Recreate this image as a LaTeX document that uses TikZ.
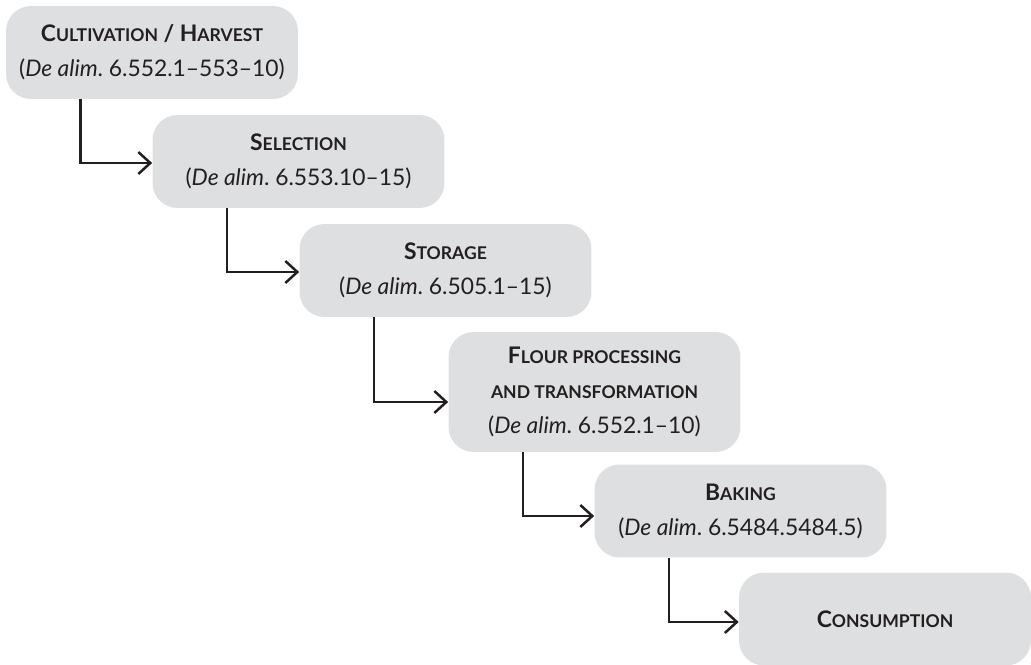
\documentclass[tikz,border=0pt]{standalone}
\usepackage{fontspec}
\setmainfont{Lato}
\usetikzlibrary{calc,arrows.meta}
\frenchspacing

\definecolor{boxgray}{RGB}{222,223,224}
\definecolor{ink}{RGB}{35,31,32}

% fake small caps: first letter full size, the rest in smaller capitals
\newcommand{\ksc}[2]{#1{\fontsize{10}{20}\selectfont\MakeUppercase{#2}}}
\newcommand{\dealim}[1]{(\textit{De alim}. #1)}

\begin{document}
\begin{tikzpicture}[x=.02cm,y=-.02cm,
  stage/.style={fill=boxgray, rounded corners=.5cm, minimum width=5.84cm, minimum height=1.86cm,
    align=center, text=ink, font=\fontsize{13}{20}\selectfont, inner sep=0pt},
  flow/.style={draw=ink, line width=.05cm, -{Straight Barb[length=.24cm,width=.44cm]}}]

\useasboundingbox (0,0) rectangle (1031,665);

\node[stage] (cult) at (152,52.5) {\textbf{\ksc{C}{ultivation} / \ksc{H}{arvest}}\\\dealim{6.552.1--553--10}};

\node[stage] (sel) at (298.5,161.5) {\textbf{\ksc{S}{election}}\\\dealim{6.553.10--15}};

\node[stage] (stor) at (445.5,270.5) {\textbf{\ksc{S}{torage}}\\\dealim{6.505.1--15}};

\node[stage, minimum height=2.4cm] (flour) at (594.5,392) {\textbf{\ksc{F}{lour processing}}\\
  \textbf{{\fontsize{10}{20}\selectfont\MakeUppercase{and transformation}}}\\\dealim{6.552.1--10}};

\node[stage] (bake) at (740.5,511) {\textbf{\ksc{B}{aking}}\\\dealim{6.5484.5484.5}};

\node[stage] (cons) at (885,619) {\textbf{\ksc{C}{onsumption}}};

\draw[flow] ($(cult.south west)+(75,0)$) |- ($(sel.west)+(0,1.5)$);
\draw[flow] ($(sel.south west)+(75,0)$) |- ($(stor.west)+(0,1.5)$);
\draw[flow] ($(stor.south west)+(75,0)$) |- ($(flour.west)+(0,10)$);
\draw[flow] ($(flour.south west)+(75,0)$) |- ($(bake.west)+(0,5)$);
\draw[flow] ($(bake.south west)+(75,0)$) |- ($(cons.west)+(0,3)$);

\end{tikzpicture}
\end{document}
